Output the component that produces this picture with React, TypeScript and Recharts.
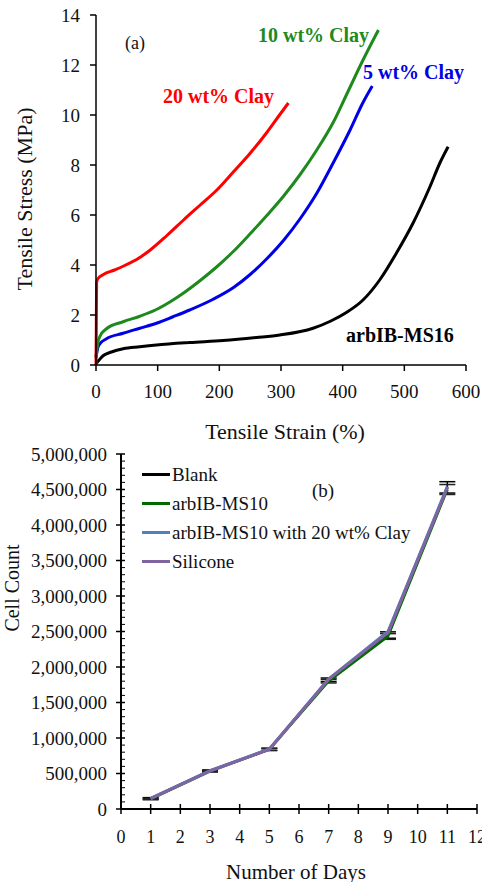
import React from "react";
import { LineChart, Line, XAxis, YAxis, Legend, ErrorBar } from "recharts";

const FONT = "Liberation Serif, Times New Roman, serif";

// ---- (a) tensile curves, strain (%) vs stress (MPa)
const clay20Strain = [0, 0.5, 1, 3, 12, 30, 44, 71, 88, 115, 142, 169, 196, 223, 250, 277, 297, 312];
const clay20Stress = [0, 1.5, 3.3, 3.45, 3.62, 3.8, 3.95, 4.3, 4.6, 5.18, 5.8, 6.4, 7.0, 7.73, 8.47, 9.3, 9.98, 10.48];

const clay10Strain = [0, 3, 6.5, 17, 44, 71, 98, 125, 142, 169, 196, 223, 250, 277, 304, 331, 358, 385, 406, 433, 458];
const clay10Stress = [0.3, 0.9, 1.15, 1.45, 1.73, 1.95, 2.22, 2.6, 2.88, 3.38, 3.93, 4.55, 5.25, 5.98, 6.75, 7.62, 8.6, 9.72, 10.8, 12.2, 13.4];

const clay5Strain = [0, 3, 6.5, 17, 44, 71, 98, 125, 152, 190, 223, 250, 277, 304, 331, 358, 385, 412, 433, 448];
const clay5Stress = [0.3, 0.7, 0.85, 1.05, 1.27, 1.47, 1.67, 1.93, 2.2, 2.63, 3.1, 3.62, 4.25, 4.98, 5.85, 6.87, 8.1, 9.4, 10.5, 11.16];

const ms16Strain = [0, 5, 12, 25, 44, 71, 98, 152, 206, 260, 298, 352, 380, 406, 433, 460, 487, 514, 541, 558, 571];
const ms16Stress = [0.05, 0.2, 0.38, 0.52, 0.65, 0.73, 0.8, 0.9, 0.98, 1.1, 1.2, 1.47, 1.75, 2.1, 2.6, 3.4, 4.47, 5.67, 7.1, 8.1, 8.73];

const strainTicks = [0, 100, 200, 300, 400, 500, 600];
const stressTicks = [0, 2, 4, 6, 8, 10, 12, 14];

// ---- (b) cell growth
const days = [1, 3, 5, 7, 9, 11];
const blank = [150000, 540000, 840000, 1820000, 2450000, 4530000];
const blankErr = [10000, 10000, 15000, 25000, 45000, 80000];
const ms10 = [140000, 530000, 840000, 1800000, 2430000, 4500000];
const ms10Err = [10000, 10000, 15000, 25000, 40000, 70000];
const ms10Clay = [150000, 540000, 845000, 1830000, 2500000, 4540000];
const silicone = [145000, 535000, 840000, 1830000, 2480000, 4530000];

const dayTicks = [0, 1, 2, 3, 4, 5, 6, 7, 8, 9, 10, 11, 12];
const countMajor = [0, 500000, 1000000, 1500000, 2000000, 2500000, 3000000, 3500000, 4000000, 4500000, 5000000];
const countTicks = Array.from({ length: 51 }, (_, i) => i * 100000);

const toPts = (xs: number[], ys: number[]) => xs.map((x, i) => ({ strain: x, stress: ys[i] }));

const cellData = days.map((d, i) => ({
  day: d,
  blank: blank[i],
  blankErr: blankErr[i],
  ms10: ms10[i],
  ms10Err: ms10Err[i],
  ms10Clay: ms10Clay[i],
  silicone: silicone[i],
}));

const legendItems = [
  { name: "Blank", color: "#000000" },
  { name: "arbIB-MS10", color: "#006a00" },
  { name: "arbIB-MS10 with 20 wt% Clay", color: "#4f81bd" },
  { name: "Silicone", color: "#8064a2" },
];

const tickStyle = { fontFamily: FONT, fontSize: 19, fill: "#111" };

const DayTick = (props: any) => {
  const { x, y, payload } = props;
  return (
    <g>
      <line x1={x} x2={x} y1={y - 5} y2={y + 5} stroke="#000" strokeWidth={1.5} />
      <text x={x} y={y + 28} textAnchor="middle" dominantBaseline="central" style={{ fontFamily: FONT, fontSize: 18, fill: "#111" }}>
        {payload.value}
      </text>
    </g>
  );
};

const CountTick = (props: any) => {
  const { x, y, payload } = props;
  const major = countMajor.includes(payload.value);
  if (!major) {
    return <line x1={x} x2={x + 4} y1={y} y2={y} stroke="#000" strokeWidth={1} />;
  }
  return (
    <g>
      <line x1={x - 5} x2={x + 4} y1={y} y2={y} stroke="#000" strokeWidth={1.5} />
      <text x={x - 14} y={y} textAnchor="end" dominantBaseline="central" style={{ fontFamily: FONT, fontSize: 19, fill: "#111" }}>
        {payload.value.toLocaleString("en-US")}
      </text>
    </g>
  );
};

const CellLegend = () => (
  <div style={{ fontFamily: FONT, fontSize: 19, color: "#111" }}>
    {legendItems.map((it) => (
      <div key={it.name} style={{ display: "flex", alignItems: "center", height: 29 }}>
        <span style={{ display: "inline-block", width: 28, height: 3, background: it.color, marginRight: 2 }} />
        <span style={{ whiteSpace: "nowrap" }}>{it.name}</span>
      </div>
    ))}
  </div>
);

const txt = (s: React.CSSProperties): React.CSSProperties => ({
  position: "absolute",
  fontFamily: FONT,
  lineHeight: 1,
  whiteSpace: "nowrap",
  ...s,
});

export default function App() {
  return (
    <div style={{ position: "absolute", left: 0, top: 0, width: 482, height: 882, background: "#fff", overflow: "hidden" }}>
      {/* (a) tensile stress-strain */}
      <div style={{ position: "absolute", left: 0, top: 0 }}>
        <LineChart width={482} height={420} margin={{ top: 15, right: 16, left: 0, bottom: 0 }}>
          <XAxis
            dataKey="strain"
            type="number"
            domain={[0, 600]}
            ticks={strainTicks}
            height={55}
            stroke="#000"
            strokeWidth={1.5}
            tickSize={6}
            tickMargin={14}
            tick={tickStyle}
            allowDuplicatedCategory={false}
          />
          <XAxis xAxisId="top" orientation="top" type="number" domain={[0, 600]} height={0} tick={false} tickLine={false} stroke="#999" />
          <YAxis
            type="number"
            domain={[0, 14]}
            ticks={stressTicks}
            width={96}
            stroke="#000"
            strokeWidth={1.5}
            tickSize={6}
            tickMargin={10}
            tick={tickStyle}
          />
          <YAxis yAxisId="right" orientation="right" type="number" domain={[0, 14]} width={0} tick={false} tickLine={false} stroke="#999" />
          <Line data={toPts(ms16Strain, ms16Stress)} dataKey="stress" type="monotone" stroke="#000" strokeWidth={3} dot={false} isAnimationActive={false} />
          <Line data={toPts(clay5Strain, clay5Stress)} dataKey="stress" type="monotone" stroke="#0000e6" strokeWidth={3} dot={false} isAnimationActive={false} />
          <Line data={toPts(clay10Strain, clay10Stress)} dataKey="stress" type="monotone" stroke="#1e8a1e" strokeWidth={3} dot={false} isAnimationActive={false} />
          <Line data={toPts(clay20Strain, clay20Stress)} dataKey="stress" type="monotone" stroke="#ff0000" strokeWidth={3} dot={false} isAnimationActive={false} />
        </LineChart>
      </div>
      <div style={txt({ left: 125, top: 34, fontSize: 18, color: "#111" })}>(a)</div>
      <div style={txt({ left: 258, top: 25, fontSize: 20, fontWeight: "bold", color: "#1e8a1e" })}>10 wt% Clay</div>
      <div style={txt({ left: 363, top: 62, fontSize: 20, fontWeight: "bold", color: "#0000e6" })}>5 wt% Clay</div>
      <div style={txt({ left: 163, top: 86, fontSize: 20, fontWeight: "bold", color: "#ff0000" })}>20 wt% Clay</div>
      <div style={txt({ left: 346, top: 325, fontSize: 20, fontWeight: "bold", color: "#000" })}>arbIB-MS16</div>
      <div style={txt({ left: 285, top: 432, fontSize: 22, color: "#111", transform: "translate(-50%,-50%)" })}>Tensile Strain (%)</div>
      <div style={txt({ left: 25, top: 199, fontSize: 22, color: "#111", transform: "translate(-50%,-50%) rotate(-90deg)" })}>Tensile Stress (MPa)</div>

      {/* (b) cell count */}
      <div style={{ position: "absolute", left: 0, top: 420 }}>
        <LineChart width={482} height={462} data={cellData} margin={{ top: 34, right: 5, left: 0, bottom: 0 }}>
          <XAxis
            dataKey="day"
            type="number"
            domain={[0, 12]}
            ticks={dayTicks}
            interval={0}
            height={73}
            stroke="#000"
            strokeWidth={2}
            tickSize={0}
            tickMargin={0}
            tick={<DayTick />}
          />
          <XAxis xAxisId="top" orientation="top" type="number" domain={[0, 12]} height={0} tick={false} tickLine={false} stroke="#aaa" />
          <YAxis
            type="number"
            domain={[0, 5000000]}
            ticks={countTicks}
            interval={0}
            width={121}
            stroke="#000"
            strokeWidth={2}
            tickSize={0}
            tickMargin={0}
            tick={<CountTick />}
          />
          <YAxis yAxisId="right" orientation="right" type="number" domain={[0, 5000000]} width={0} tick={false} tickLine={false} stroke="#aaa" />
          <Legend
            layout="vertical"
            align="center"
            verticalAlign="middle"
            content={<CellLegend />}
            wrapperStyle={{ left: 142, top: 40, width: 300 }}
          />
          <Line dataKey="blank" name="Blank" type="linear" stroke="#000" strokeWidth={2.5} dot={false} isAnimationActive={false}>
            <ErrorBar dataKey="blankErr" width={8} stroke="#000" strokeWidth={1.5} direction="y" />
          </Line>
          <Line dataKey="ms10" name="arbIB-MS10" type="linear" stroke="#006a00" strokeWidth={2.5} dot={false} isAnimationActive={false}>
            <ErrorBar dataKey="ms10Err" width={8} stroke="#222" strokeWidth={1.5} direction="y" />
          </Line>
          <Line dataKey="ms10Clay" name="arbIB-MS10 with 20 wt% Clay" type="linear" stroke="#4f81bd" strokeWidth={3} dot={false} isAnimationActive={false} />
          <Line dataKey="silicone" name="Silicone" type="linear" stroke="#8064a2" strokeWidth={3} dot={false} isAnimationActive={false} />
        </LineChart>
      </div>
      <div style={txt({ left: 323, top: 490, fontSize: 19, color: "#111", transform: "translate(-50%,-50%)" })}>(b)</div>
      <div style={txt({ left: 296, top: 872, fontSize: 21, color: "#111", transform: "translate(-50%,-50%)" })}>Number of Days</div>
      <div style={txt({ left: 12, top: 588, fontSize: 20, color: "#111", transform: "translate(-50%,-50%) rotate(-90deg)" })}>Cell Count</div>
    </div>
  );
}
